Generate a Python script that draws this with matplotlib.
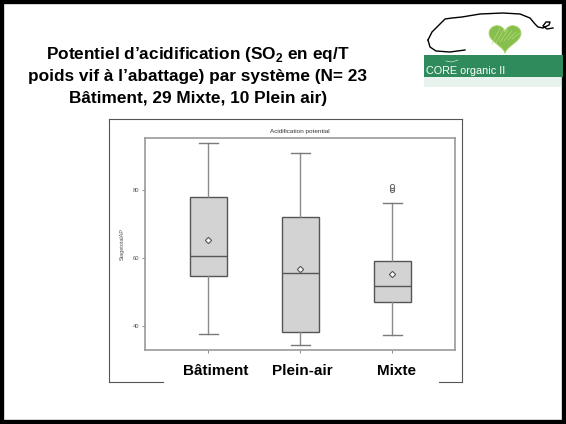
import numpy as np
import matplotlib
matplotlib.use("Agg")
import matplotlib.pyplot as plt
from matplotlib.patches import Rectangle, Polygon

plt.rcParams['font.family'] = ['Liberation Sans', 'DejaVu Sans']
plt.rcParams['mathtext.fontset'] = 'custom'
plt.rcParams['mathtext.rm'] = 'Liberation Sans'
plt.rcParams['mathtext.bf'] = 'Liberation Sans:bold'

# donnees
categories = ["Bâtiment", "Plein-air", "Mixte"]
whis_lo = [37.7, 34.5, 37.4]
q1 = [54.6, 38.1, 47.1]
median = [60.7, 55.5, 51.8]
q3 = [77.9, 72.1, 59.0]
whis_hi = [93.7, 90.9, 76.1]
means = [65.3, 56.8, 55.4]
fliers = [[], [], [79.9, 80.6, 81.2]]
yticks = [40, 60, 80]
label_x = [216, 302, 396]  # position (px) des grands libelles

W, H = 566, 424
fig = plt.figure(figsize=(W / 100, H / 100), dpi=100)

# axe principal (boxplot)
ax = fig.add_axes([145 / W, 1 - 350 / H, 310 / W, 212 / H])
stats = []
for i in range(len(categories)):
    stats.append(dict(med=median[i], q1=q1[i], q3=q3[i], whislo=whis_lo[i],
                      whishi=whis_hi[i], mean=means[i], fliers=fliers[i]))
ax.bxp(stats, positions=[1, 2, 3], widths=0.4, showmeans=True, patch_artist=True,
       boxprops=dict(facecolor='#d3d3d3', edgecolor='#555555', linewidth=1.0),
       medianprops=dict(color='#555555', linewidth=1.0),
       whiskerprops=dict(color='#8a8a8a', linewidth=1.0),
       capprops=dict(color='#7a7a7a', linewidth=1.0),
       meanprops=dict(marker='D', markerfacecolor='white', markeredgecolor='#555555',
                      markersize=3.2, markeredgewidth=0.8),
       flierprops=dict(marker='o', markerfacecolor='white', markeredgecolor='#666666',
                       markersize=3, markeredgewidth=0.7))
ax.set_xlim(0.31, 3.68)
ax.set_ylim(32.9, 95.3)
ax.set_yticks(yticks)
ax.set_yticklabels([str(v) for v in yticks], fontsize=4.2, color='#555555')
ax.set_xticks([1, 2, 3])
ax.set_xticklabels([])
ax.tick_params(length=2.5, width=0.6, color='#777777', pad=1.5)
for s in ax.spines.values():
    s.set_color('#9a9a9a')
    s.set_linewidth(1.2)
ax.set_ylabel("StagetotalAP", fontsize=4, color='#555555', labelpad=6)
ax.set_title("Acidification potential", fontsize=4.6, color='#333333', pad=3.5)

# couche en pixels pour le cadre et les decorations
ov = fig.add_axes([0, 0, 1, 1], zorder=-1)
ov.set_xlim(0, W)
ov.set_ylim(H, 0)
ov.axis('off')

# cadre de la diapositive
ov.add_patch(Rectangle((0, 0), W, H, fill=False, edgecolor='black', linewidth=6))

# cadre de l'image du graphique
c = '#555555'
ov.plot([109, 109], [119, 382], color=c, lw=0.8)
ov.plot([109, 462], [119, 119], color=c, lw=0.8)
ov.plot([462, 462], [119, 382], color=c, lw=0.8)
ov.plot([109, 163], [382, 382], color=c, lw=0.8)
ov.plot([439, 462], [382, 382], color=c, lw=0.8)

# titre
title_lines = [r"Potentiel d’acidification (SO$_{\mathbf{2}}$ en eq/T",
               "poids vif à l’abattage) par système (N= 23",
               "Bâtiment, 29 Mixte, 10 Plein air)"]
for yy, t in zip([59, 81, 103], title_lines):
    ov.text(198, yy, t, ha='center', va='baseline', fontsize=12.4, fontweight='bold')

# libelles des categories
for xx, t in zip(label_x, categories):
    ov.text(xx, 375, t, ha='center', va='baseline', fontsize=11, fontweight='bold')

# logo CORE organic II
pig_x = [428, 432, 440, 445, 452, 462, 480, 503, 520, 530, 535, 538, 543, 549, 550, 546, 543, 547, 553]
pig_y = [40, 32, 24, 19, 18, 17, 14, 13, 14, 18, 24, 27, 28, 25, 22, 22, 26, 29, 28]
ov.plot(pig_x, pig_y, color='black', lw=1.0)
ov.plot([428, 430, 436, 450, 465], [40, 47, 51, 52, 50], color='black', lw=1.0)
t = np.linspace(0, 2 * np.pi, 60)
hx = 16 * np.sin(t) ** 3
hy = 13 * np.cos(t) - 5 * np.cos(2 * t) - 2 * np.cos(3 * t) - np.cos(4 * t)
ov.add_patch(Polygon(np.c_[505 + hx * 1.0, 37 - hy * 0.95], closed=True,
                     facecolor='#86bf4e', edgecolor='#a8d46a', lw=0.6))
for k in range(6):
    ov.plot([492 + 4 * k, 500 + 4 * k], [44 - k, 28 + k], color='#b5db7c', lw=0.5)
ov.add_patch(Rectangle((424, 55), 139, 22, facecolor='#2f8a5c', edgecolor='none'))
ov.add_patch(Rectangle((424, 77), 139, 10, facecolor='#2f8a5c', edgecolor='none', alpha=0.1))
ov.text(426, 74, "CORE organic II", color='white', fontsize=7.8, va='baseline')
ov.plot([446, 452, 458], [61, 62, 60], color='#cfe6d6', lw=0.5)

fig.savefig("out.png", dpi=100)
